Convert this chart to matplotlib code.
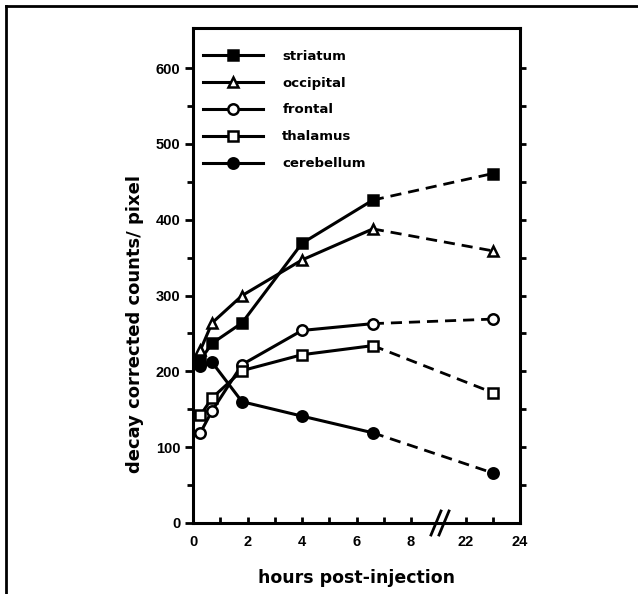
import numpy as np
import matplotlib.pyplot as plt
from matplotlib.lines import Line2D

plt.rcParams['font.family'] = ['Liberation Sans', 'DejaVu Sans']
plt.rcParams['font.weight'] = 'bold'

# sampling times (hours post-injection); last one lies past the axis break
hours = [0.27, 0.7, 1.8, 4.0, 6.6, 23.0]

regions = ['striatum', 'occipital', 'frontal', 'thalamus', 'cerebellum']
striatum = [215, 237, 264, 369, 426, 461]
occipital = [228, 264, 300, 347, 388, 359]
frontal = [119, 148, 209, 254, 263, 269]
thalamus = [142, 165, 201, 222, 234, 172]
cerebellum = [207, 212, 160, 141, 119, 66]

markers = ['s', '^', 'o', 's', 'o']
fills = ['black', 'white', 'white', 'white', 'black']

xticks = [0, 2, 4, 6, 8, 22, 24]
BREAK_AT = 9.0
GAP = 12.0


def squeeze(h):
    # hours after the break are shifted left by the gap
    h = np.asarray(h, dtype=float)
    return np.where(h > BREAK_AT, h - GAP, h)


fig = plt.figure(figsize=(6.38, 5.94), dpi=100)
ax = fig.add_axes([193 / 638, 1 - 523 / 594, 327 / 638, 495 / 594])

series = [striatum, occipital, frontal, thalamus, cerebellum]
hx = squeeze(hours)
for name, vals, m, fc in zip(regions, series, markers, fills):
    ax.plot(hx[:5], vals[:5], color='black', lw=2.2, marker=m, ms=7.5,
            mfc=fc, mec='black', mew=1.8, label=name, zorder=3)
    ax.plot(hx[4:], vals[4:], color='black', lw=2.0, ls=(0, (4, 2.5)),
            zorder=2)
    ax.plot(hx[5:], vals[5:], color='black', lw=0, marker=m, ms=7.5,
            mfc=fc, mec='black', mew=1.8, zorder=4)

ax.set_xlim(0, 12)
ax.set_ylim(0, 653)
ax.set_xticks(squeeze(xticks))
ax.set_xticklabels([str(t) for t in xticks])
ax.set_xticks(squeeze([1, 3, 5, 7, 23]), minor=True)
ax.set_yticks([0, 100, 200, 300, 400, 500, 600])
ax.set_yticks(np.arange(50, 551, 100), minor=True)

for s in ax.spines.values():
    s.set_linewidth(2.2)

ax.tick_params(axis='x', which='both', direction='in', length=4, width=2,
               labelsize=10.5, pad=9)
ax.tick_params(axis='y', which='major', direction='out', length=6, width=2,
               labelsize=10.5, pad=3)
ax.tick_params(axis='y', which='minor', direction='out', length=4, width=2)

# right spine ticks every 50
rax = ax.twinx()
rax.set_ylim(ax.get_ylim())
rax.set_yticks(np.arange(50, 601, 50))
rax.tick_params(axis='y', direction='out', length=4, width=2, labelright=False)
for s in rax.spines.values():
    s.set_visible(False)

for lab in ax.get_xticklabels() + ax.get_yticklabels():
    lab.set_fontweight('heavy')

ax.set_xlabel('hours post-injection', fontsize=12.5, fontweight='bold',
              family='DejaVu Sans', labelpad=14)
ax.set_ylabel('decay corrected counts/ pixel', fontsize=13,
              fontweight='bold', family='DejaVu Sans')
ax.yaxis.set_label_coords(-0.15, 0.402)

# axis break marks
bx = 440
for dx in (-4, 4):
    fig.add_artist(Line2D([(bx + dx - 5) / 638, (bx + dx + 5) / 638],
                          [1 - 535 / 594, 1 - 511 / 594],
                          color='black', lw=2))

handles = []
for name, m, fc in zip(regions, markers, fills):
    handles.append(Line2D([], [], color='black', lw=2.2, marker=m, ms=7.5,
                          mfc=fc, mec='black', mew=1.8))
leg = ax.legend(handles, regions, loc='upper left', frameon=False,
                handlelength=4.5, handletextpad=1.5, labelspacing=1.05,
                borderpad=0, borderaxespad=0,
                prop={'family': 'DejaVu Sans', 'weight': 'bold', 'size': 9.5},
                bbox_to_anchor=(0.031, 0.956))

# outer frame of the scanned panel
fig.add_artist(Line2D([6 / 638, 1], [1 - 6 / 594, 1 - 6 / 594],
                      color='black', lw=2))
fig.add_artist(Line2D([6 / 638, 6 / 638], [0, 1 - 6 / 594],
                      color='black', lw=2))

fig.savefig('out.png', dpi=100)
